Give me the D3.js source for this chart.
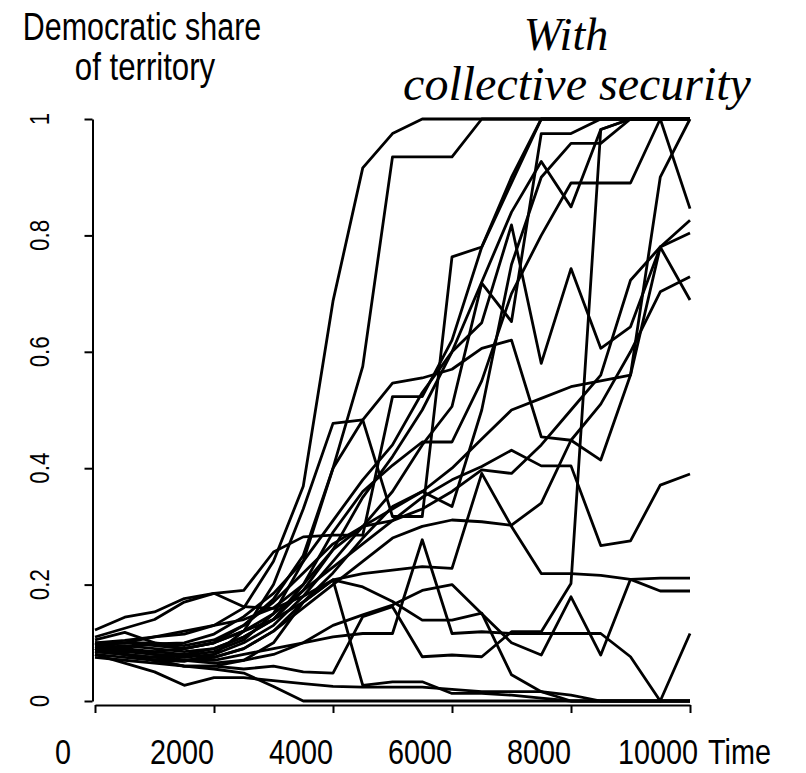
<!DOCTYPE html>
<html>
<head>
<meta charset="utf-8">
<script src="https://cdn.jsdelivr.net/npm/d3@7"></script>
<style>
  body { margin: 0; background: #fff; }
  svg { display: block; }
  .sans { font-family: "Liberation Sans", Arial, sans-serif; fill: #000; }
  .serif { font-family: "Liberation Serif", "Times New Roman", serif; font-style: italic; fill: #000; }
</style>
</head>
<body>
<svg id="chart" width="806" height="773"></svg>
<script>
"use strict"

// time steps of the simulation
const times = [0, 500, 1000, 1500, 2000, 2500, 3000, 3500, 4000, 4500, 5000,
    5500, 6000, 6500, 7000, 7500, 8000, 8500, 9000, 9500, 10000];

// democratic share of territory, one array per run
const run01 = [0.100,0.104,0.110,0.115,0.130,0.160,0.240,0.369,0.687,0.916,0.975,1,1,1,1,1,1,1,1,1,1];
const run02 = [0.094,0.088,0.080,0.078,0.085,0.105,0.150,0.240,0.400,0.575,0.935,0.935,0.935,1,1,1,1,1,1,1,1];
const run03 = [0.086,0.080,0.070,0.068,0.080,0.120,0.200,0.330,0.477,0.483,0.317,0.317,0.763,0.780,0.890,1,1,1,1,1,1];
const run04 = [0.122,0.144,0.153,0.176,0.185,0.190,0.256,0.282,0.285,0.285,0.523,0.523,0.620,0.780,0.900,1,1,1,1,1,1];
const run05 = [0.105,0.118,0.100,0.095,0.105,0.130,0.175,0.250,0.400,0.483,0.546,0.555,0.570,0.606,0.620,0.454,0.448,0.414,0.560,0.780,0.689];
const run06 = [0.090,0.092,0.098,0.100,0.115,0.145,0.185,0.240,0.310,0.380,0.440,0.530,0.600,0.650,0.818,0.580,0.743,0.606,0.643,0.780,0.804];
const run07 = [0.085,0.080,0.075,0.080,0.090,0.110,0.140,0.190,0.260,0.350,0.420,0.500,0.600,0.720,0.840,0.927,0.849,0.982,1,1,1];
const run08 = [0.090,0.085,0.080,0.075,0.080,0.100,0.130,0.180,0.240,0.300,0.360,0.440,0.506,0.718,0.652,0.975,0.975,1,1,1,1];
const run09 = [0.100,0.090,0.085,0.080,0.075,0.090,0.120,0.170,0.220,0.280,0.334,0.360,0.334,0.500,0.750,0.900,0.958,0.958,1,1,1];
const run10 = [0.090,0.095,0.090,0.085,0.090,0.110,0.140,0.200,0.290,0.360,0.405,0.445,0.445,0.550,0.700,0.800,0.890,0.890,0.890,1,0.846];
const run11 = [0.075,0.070,0.065,0.060,0.060,0.055,0.060,0.050,0.048,0.145,0.162,0.076,0.079,0.076,0.119,0.119,0.202,0.982,1,1,1];
const run12 = [0.095,0.100,0.110,0.120,0.130,0.140,0.160,0.200,0.260,0.300,0.330,0.360,0.400,0.450,0.500,0.520,0.540,0.550,0.560,0.900,1];
const run13 = [0.080,0.075,0.070,0.070,0.075,0.090,0.120,0.160,0.200,0.240,0.280,0.300,0.311,0.308,0.302,0.340,0.448,0.510,0.600,0.703,0.729];
const run14 = [0.100,0.100,0.095,0.090,0.100,0.130,0.170,0.220,0.270,0.300,0.310,0.330,0.360,0.397,0.391,0.440,0.500,0.560,0.723,0.780,0.826];
const run15 = [0.090,0.085,0.085,0.090,0.100,0.120,0.150,0.190,0.230,0.270,0.310,0.350,0.380,0.403,0.431,0.404,0.404,0.267,0.275,0.371,0.390];
const run16 = [0.110,0.125,0.140,0.170,0.185,0.162,0.159,0.180,0.208,0.219,0.225,0.231,0.228,0.391,0.300,0.219,0.219,0.216,0.209,0.189,0.189];
const run17 = [0.085,0.080,0.075,0.070,0.065,0.070,0.080,0.100,0.130,0.148,0.165,0.190,0.200,0.150,0.100,0.079,0.179,0.079,0.209,0.211,0.211];
const run18 = [0.100,0.090,0.080,0.070,0.070,0.080,0.090,0.100,0.110,0.116,0.116,0.277,0.116,0.119,0.116,0.116,0.116,0.116,0.076,0,0.116];
const run19 = [0.090,0.080,0.070,0.060,0.060,0.070,0.100,0.170,0.208,0.196,0.171,0.139,0.139,0.151,0.045,0.016,0,0,0,0,0];
const run20 = [0.095,0.100,0.100,0.090,0.100,0.120,0.140,0.170,0.208,0.027,0.033,0.033,0.013,0.013,0.010,0.005,0,0,0,0,0];
const run21 = [0.090,0.080,0.070,0.060,0.055,0.048,0.025,0,0,0,0,0,0,0,0,0,0,0,0,0,0];
const run22 = [0.080,0.065,0.050,0.027,0.040,0.040,0.035,0.030,0.025,0.024,0.024,0.024,0.020,0.016,0.016,0.016,0.010,0,0,0,0];

const runs = [run01, run02, run03, run04, run05, run06, run07, run08, run09, run10, run11,
    run12, run13, run14, run15, run16, run17, run18, run19, run20, run21, run22];

// axis ticks
const xTicks = [0, 2000, 4000, 6000, 8000, 10000];
const yTicks = [0, 0.2, 0.4, 0.6, 0.8, 1];
const yTickLabels = ["0", "0.2", "0.4", "0.6", "0.8", "1"];

const svg = d3.select("#chart");

const x = d3.scaleLinear().domain([0, 10000]).range([95, 690]);
const y = d3.scaleLinear().domain([0, 1]).range([701, 119]);

// runs
const line = d3.line()
    .x(function (d, i) { return x(times[i]); })
    .y(function (d) { return y(d); });

svg.append("g")
    .selectAll("path")
    .data(runs)
    .enter().append("path")
    .attr("d", line)
    .attr("fill", "none")
    .attr("stroke", "#000")
    .attr("stroke-width", 2.8)
    .attr("stroke-linejoin", "round");

// axes (R style, detached)
let yAxis = svg.append("g")
    .attr("transform", "translate(92.5,0)")
    .call(d3.axisLeft(y).tickValues(yTicks).tickSize(8).tickSizeOuter(0).tickFormat(""));

let xAxis = svg.append("g")
    .attr("transform", "translate(0,705)")
    .call(d3.axisBottom(x).tickValues(xTicks).tickSize(8).tickSizeOuter(0).tickFormat(""));

[yAxis, xAxis].forEach(function (a) {
    a.selectAll("path, line").attr("stroke", "#000").attr("stroke-width", 2);
});

// y tick labels, rotated
svg.append("g")
    .selectAll("text")
    .data(yTicks)
    .enter().append("text")
    .attr("class", "sans")
    .attr("transform", function (d) { return "translate(49," + y(d) + ") rotate(-90) scale(0.8,1)"; })
    .attr("text-anchor", "middle")
    .attr("font-size", 28)
    .text(function (d, i) { return yTickLabels[i]; });

// x tick labels sit left of their ticks
svg.append("g")
    .selectAll("text")
    .data(xTicks)
    .enter().append("text")
    .attr("class", "sans")
    .attr("transform", function (d) { return "translate(" + (x(d) - 32) + ",764) scale(0.8,1)"; })
    .attr("text-anchor", "middle")
    .attr("font-size", 36)
    .text(function (d) { return d; });

svg.append("text")
    .attr("class", "sans")
    .attr("transform", "translate(708,764) scale(0.8,1)")
    .attr("font-size", 36)
    .text("Time");

// titles
svg.append("text")
    .attr("class", "sans")
    .attr("transform", "translate(142,40) scale(0.78,1)")
    .attr("text-anchor", "middle")
    .attr("font-size", 39)
    .text("Democratic share");

svg.append("text")
    .attr("class", "sans")
    .attr("transform", "translate(145,80) scale(0.8,1)")
    .attr("text-anchor", "middle")
    .attr("font-size", 39)
    .text("of territory");

svg.append("text")
    .attr("class", "serif")
    .attr("x", 566)
    .attr("y", 50)
    .attr("text-anchor", "middle")
    .attr("font-size", 46)
    .text("With");

svg.append("text")
    .attr("class", "serif")
    .attr("x", 577)
    .attr("y", 100)
    .attr("text-anchor", "middle")
    .attr("font-size", 48)
    .text("collective security");
</script>
</body>
</html>
